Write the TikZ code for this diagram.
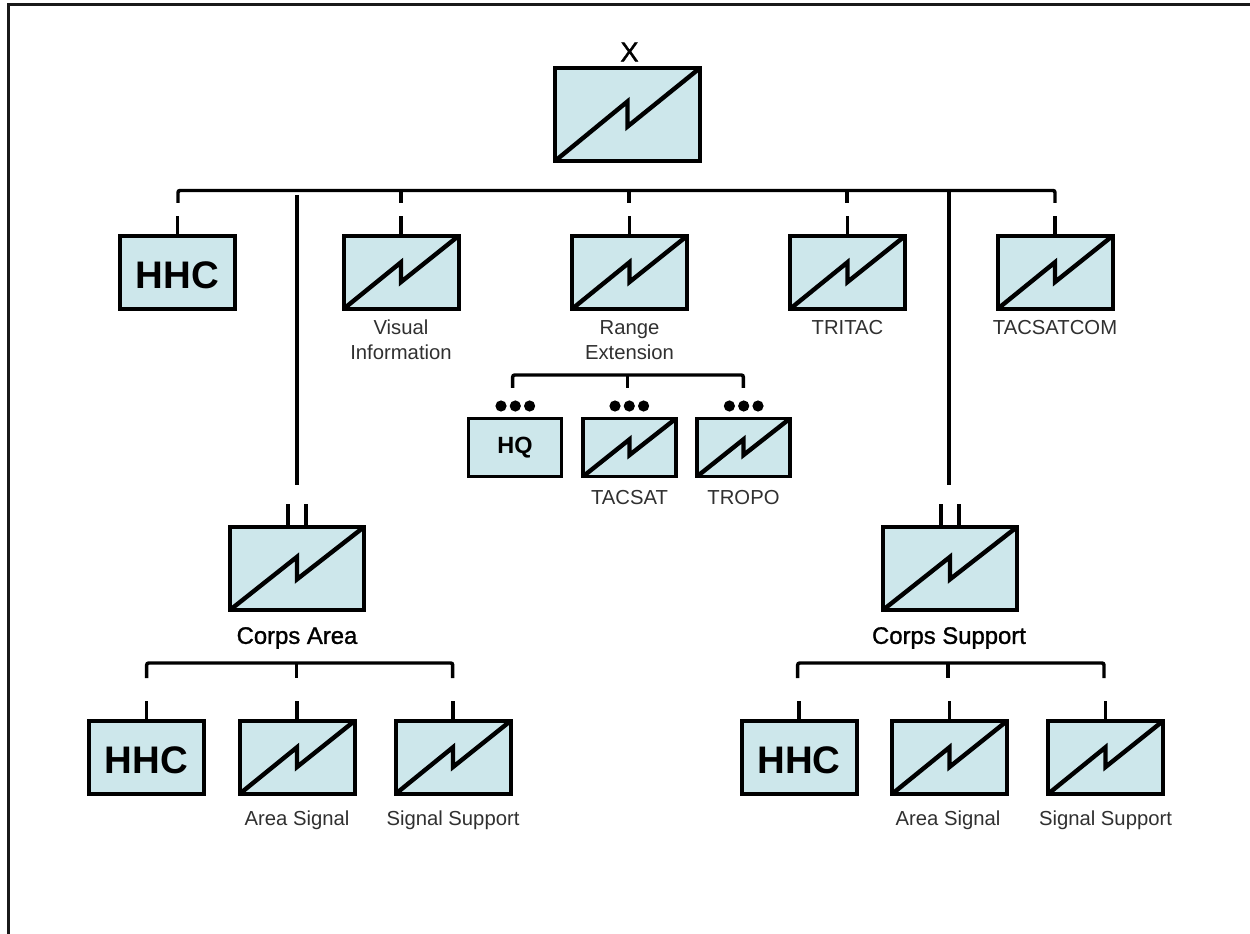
\documentclass[tikz,border=0pt]{standalone}
\usepackage{fontspec}
\setmainfont{Liberation Sans}
\newfontfamily\semibold[FakeBold=1.2]{Liberation Sans}
\usetikzlibrary{calc}
\definecolor{boxfill}{HTML}{CDE7EB}
\definecolor{labelgray}{HTML}{303030}
\tikzset{
  unitbox/.style 2 args={draw=black,fill=boxfill,line width=3pt,minimum width=#1*0.75pt,minimum height=#2*0.75pt,inner sep=0pt,outer sep=0pt,line join=miter},
  signal/.style={path picture={
    \draw[black,line width=3.3pt,line join=miter]
      (path picture bounding box.south west)
      -- ($(path picture bounding box.south)!0.64!(path picture bounding box.north)$)
      -- ($(path picture bounding box.south)!0.37!(path picture bounding box.north)$)
      -- (path picture bounding box.north east);}},
  hhcbox/.style={unitbox={115}{73},font=\bfseries\fontsize{28.8}{30}\selectfont},
  sigbox/.style={unitbox={115}{73},signal},
  bigbox/.style={unitbox={134}{83},signal},
  smallbox/.style={unitbox={93}{58},line width=2.7pt},
  lab/.style={text=labelgray,font=\fontsize{15.2}{19}\selectfont,align=center,inner sep=0pt},
  corpslab/.style={text=black,font=\semibold\fontsize{17.9}{20}\selectfont,inner sep=0pt},
  wire/.style={line width=2.6pt,black,line cap=butt,rounded corners=1.5pt},
  dot/.style={circle,fill=black,minimum size=8.4pt,inner sep=0pt,outer sep=0pt},
}
\newcommand{\hhctext}{\raisebox{-12.2pt}[0pt][0pt]{HHC}}
\begin{document}
\begin{tikzpicture}[x=0.75pt,y=-0.75pt]
\useasboundingbox (0,0) rectangle (1250,934);
\fill[white] (0,0) rectangle (1250,934);
% frame
\coordinate (fa) at (8.5,934);
\coordinate (fb) at (8.5,4.5);
\coordinate (fc) at (1250,4.5);
\draw[line width=1.9pt,black!90] (fa) -- (fb) -- (fc);
% top
\node[unitbox={145}{93},signal] (x) at (627.5,114.5) {};
\node[inner sep=0pt,font=\semibold\fontsize{20.5}{22}\selectfont] (xtext) at (629.5,52) {X};
% second row
\node[hhcbox] (hhc) at (177.5,272.5) {\hhctext};
\node[sigbox] (vi) at (401,272.5) {};
\node[sigbox] (re) at (629.5,272.5) {};
\node[sigbox] (tri) at (847.5,272.5) {};
\node[sigbox] (tsc) at (1055,272.5) {};
\node[lab] (vilab) at (401,340) {Visual\\Information};
\node[lab] (relab) at (629.5,340) {Range\\Extension};
\node[lab] (trilab) at (847.5,328) {TRITAC};
\node[lab] (tsclab) at (1055,328) {TACSATCOM};
% third row
\node[smallbox,font=\bfseries\fontsize{17.6}{20}\selectfont] (hq) at (515,447.5) {HQ};
\node[smallbox,signal] (tacsat) at (629.5,447.5) {};
\node[smallbox,signal] (tropo) at (743.5,447.5) {};
\node[lab] (tacsatlab) at (629.5,498) {TACSAT};
\node[lab] (tropolab) at (743.5,498) {TROPO};
\foreach \nm/\cx in {a/515.3,b/629.3,c/743.7}{
  \node[dot] (\nm1) at (\cx-14.3,406) {};
  \node[dot] (\nm2) at (\cx,406) {};
  \node[dot] (\nm3) at (\cx+14.3,406) {};
}
% corps
\node[bigbox] (ca) at (297,568.5) {};
\node[bigbox] (cs) at (950,568.5) {};
\node[corpslab] (calab) at (297,638) {Corps Area};
\node[corpslab] (cslab) at (949,638) {Corps Support};
% bottom
\node[hhcbox] (lh) at (146.5,757.5) {\hhctext};
\node[sigbox] (la) at (297,757.5) {};
\node[sigbox] (ls) at (453,757.5) {};
\node[hhcbox] (rh) at (799,757.5) {\hhctext};
\node[sigbox] (ra) at (949.5,757.5) {};
\node[sigbox] (rs) at (1105.5,757.5) {};
\node[lab] (lalab) at (297,820) {Area Signal};
\node[lab] (lslab) at (453,820) {Signal Support};
\node[lab] (ralab) at (948,820) {Area Signal};
\node[lab] (rslab) at (1105.5,820) {Signal Support};
% top bus
\coordinate (b1) at (178,190.5); \coordinate (b7) at (1055,190.5);
\coordinate (e1) at (178,203); \coordinate (e7) at (1055,203);
\draw[wire] (e1) -- (b1) -- (b7) -- (e7);
\foreach \nm/\cx in {2/401,3/629,4/847}{
  \coordinate (t\nm) at (\cx,190.5); \coordinate (u\nm) at (\cx,203);
  \draw[wire] (t\nm) -- (u\nm);
}
\foreach \nm in {hhc,vi,re,tri,tsc}{
  \coordinate (g\nm) at ($(\nm.north)+(0,-20)$);
  \draw[wire] (\nm.north) -- (g\nm);
}
% long drops
\coordinate (d1a) at (297,195); \coordinate (d1b) at (297,485);
\coordinate (d2a) at (949,190.5); \coordinate (d2b) at (949,485);
\draw[wire] (d1a) -- (d1b);
\draw[wire] (d2a) -- (d2b);
\foreach \nm in {ca,cs}{
  \coordinate (\nm l) at ($(\nm.north)+(-9.2,-23.5)$);
  \coordinate (\nm r) at ($(\nm.north)+(9,-23.5)$);
  \draw[wire] ($(\nm.north)+(-9.2,0)$) -- (\nm l);
  \draw[wire] ($(\nm.north)+(9,0)$) -- (\nm r);
}
% range bus
\coordinate (r1) at (512.7,375); \coordinate (r3) at (743.3,375);
\coordinate (r1e) at (512.7,388); \coordinate (r3e) at (743.3,388);
\coordinate (r2) at (627.7,375); \coordinate (r2e) at (627.7,388);
\draw[wire] (r1e) -- (r1) -- (r3) -- (r3e);
\draw[wire] (r2) -- (r2e);
% left bottom bus
\coordinate (l1) at (146.7,663); \coordinate (l3) at (452.7,663); \coordinate (l2) at (296.7,663);
\coordinate (l1e) at (146.7,678); \coordinate (l3e) at (452.7,678); \coordinate (l2e) at (296.7,678);
\draw[wire] (l1e) -- (l1) -- (l3) -- (l3e);
\draw[wire] (l2) -- (l2e);
% right bottom bus
\coordinate (m1) at (797.7,663); \coordinate (m3) at (1104,663); \coordinate (m2) at (948,663);
\coordinate (m1e) at (797.7,678); \coordinate (m3e) at (1104,678); \coordinate (m2e) at (948,678);
\draw[wire] (m1e) -- (m1) -- (m3) -- (m3e);
\draw[wire] (m2) -- (m2e);
\foreach \nm in {lh,la,ls,rh,ra,rs}{
  \coordinate (g\nm) at ($(\nm.north)+(0,-20)$);
  \draw[wire] (\nm.north) -- (g\nm);
}
\end{tikzpicture}
\end{document}
